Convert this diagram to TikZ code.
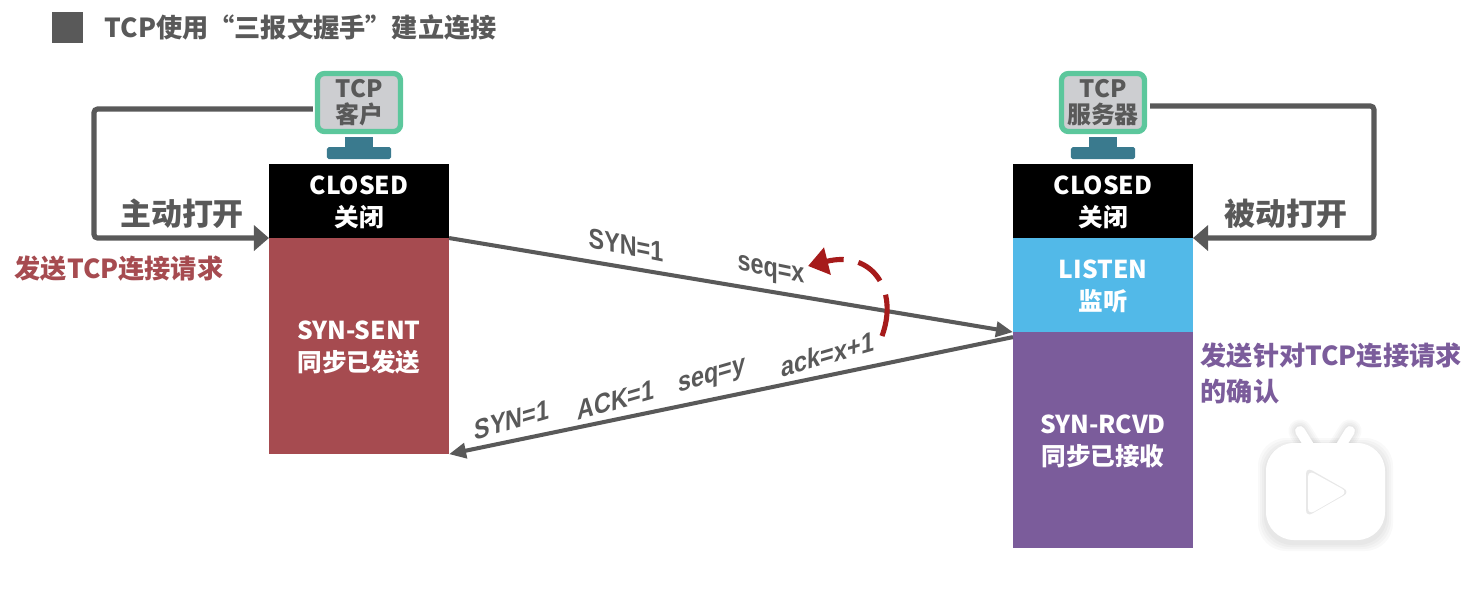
\documentclass[tikz,border=0pt]{standalone}
\usepackage{fontspec}
\setmainfont{Noto Sans CJK SC}
\newfontfamily\labelfont{Liberation Sans}
\usepackage{xcolor}
\usetikzlibrary{arrows.meta,positioning,calc}

\definecolor{linegray}{HTML}{595959}
\definecolor{sentred}{HTML}{A64B50}
\definecolor{listenblue}{HTML}{52B9E8}
\definecolor{rcvdpurple}{HTML}{7B5C9B}
\definecolor{screengreen}{HTML}{5CC79C}
\definecolor{screengray}{HTML}{CDCED1}
\definecolor{standteal}{HTML}{3A7A8E}
\definecolor{markred}{HTML}{A61B1B}

\tikzset{
	statebox/.style={minimum width=1.8cm,inner sep=0pt,outer sep=0pt,align=center,text=white,
		text depth=0pt,font=\fontsize{7}{9.1}\selectfont\bfseries},
	monitor/.style={draw=screengreen,line width=1.5pt,fill=screengray,rounded corners=2pt,
		minimum width=0.83cm,minimum height=0.58cm,inner sep=0pt,align=center,text=linegray,
		font=\fontsize{6.8}{7.4}\selectfont\bfseries},
	stand/.style={fill=standteal,inner sep=0pt,outer sep=0pt},
	openarrow/.style={draw=linegray,line width=1.45pt,rounded corners=1pt,
		-{Triangle[length=0.15cm,width=0.25cm]}},
	msgarrow/.style={draw=linegray,line width=1.15pt,-{Triangle[length=0.17cm,width=0.15cm]}},
	openlabel/.style={text=linegray,inner sep=0pt,font=\fontsize{8.8}{10}\selectfont\bfseries},
	notelabel/.style={inner sep=0pt,anchor=west,align=left,font=\fontsize{7.45}{10}\selectfont\bfseries},
	msgdown/.style={text=linegray,inner sep=0pt,xscale=0.83,yslant=-0.17,transform shape,
		font=\fontsize{8}{9}\labelfont\bfseries},
	msgup/.style={text=linegray,inner sep=0pt,xscale=0.83,yslant=0.24,transform shape,
		font=\fontsize{8}{9}\labelfont\bfseries},
}

\begin{document}
\begin{tikzpicture}[x=0.01cm,y=-0.01cm]
	\useasboundingbox (0,0) rectangle (1466,596);

	% title
	\node[fill=linegray,minimum size=0.31cm,inner sep=0pt] (mark) at (67.5,27.5) {};
	\node[anchor=west,inner sep=0pt,text=linegray,font=\fontsize{7.45}{9}\selectfont\bfseries] (title) at (104,28)
		{TCP使用“三报文握手”建立连接};

	% client column
	\node[statebox,fill=black,minimum height=0.74cm] (closedC) at (359,201) {CLOSED\\关闭};
	\node[statebox,fill=sentred,minimum height=2.16cm,below=0pt of closedC] (sent) {SYN-SENT\\同步已发送};
	\node[monitor] (client) at (359,102.5) {TCP\\客户};
	\node[stand,minimum width=0.28cm,minimum height=0.12cm] (neckC) at (359,143) {};
	\node[stand,minimum width=0.64cm,minimum height=0.12cm,rounded corners=0.5pt] (baseC) at (359,153) {};

	% server column
	\node[statebox,fill=black,minimum height=0.74cm] (closedS) at (1103,201) {CLOSED\\关闭};
	\node[statebox,fill=listenblue,minimum height=0.94cm,below=0pt of closedS] (listen) {LISTEN\\监听};
	\node[statebox,fill=rcvdpurple,minimum height=2.16cm,below=0pt of listen] (rcvd) {SYN-RCVD\\同步已接收};
	\node[monitor] (server) at (1103,102.5) {TCP\\服务器};
	\node[stand,minimum width=0.28cm,minimum height=0.12cm] (neckS) at (1103,143) {};
	\node[stand,minimum width=0.64cm,minimum height=0.12cm,rounded corners=0.5pt] (baseS) at (1103,153) {};

	% open arrows
	\coordinate (turnC) at (94,109);
	\coordinate (turnS) at (1374,106);
	\draw[openarrow] ([xshift=-0.02cm,yshift=-0.065cm]client.west) -- (turnC) |- (sent.north west);
	\draw[openarrow] ([xshift=0.03cm,yshift=-0.035cm]server.east) -- (turnS) |- (listen.north east);
	\node[openlabel] (openC) at (182,214) {主动打开};
	\node[openlabel] (openS) at (1286,214) {被动打开};

	% messages
	\draw[msgarrow] (sent.north east) -- (listen.south west);
	\draw[msgarrow] ([yshift=-0.05cm]rcvd.north west) -- (sent.south east);

	\node[msgdown] (synA) at (626,245) {SYN=1};
	\node[msgdown] (seqA) at (771,272) {seq=x};
	\node[msgup] (synB) at (512,420) {SYN=1};
	\node[msgup] (ackB) at (616,400) {ACK=1};
	\node[msgup] (seqB) at (712,378) {seq=y};
	\node[msgup] (numB) at (828,354) {ack=x+1};

	% dashed mark
	\coordinate (markA) at (882,336);
	\coordinate (markB) at (808,266);
	\draw[draw=markred,line width=1.45pt,dash pattern=on 0.42cm off 0.15cm on 0.29cm off 0.15cm on 0.8cm,
		-{Triangle[length=0.2cm,width=0.27cm]}]
		(markA) .. controls (899,290) and (872,250) .. (markB);

	% notes
	\node[notelabel,text=sentred] (noteC) at (14,269) {发送TCP连接请求};
	\node[notelabel,text=rcvdpurple] (noteS) at (1200,373.5) {发送针对TCP连接请求\\的确认};

	% watermark
	\foreach \s in {8,6,4,2}{
		\fill[black,opacity=0.022,rounded corners=0.28cm] (1266-\s,443-\s+3) -- (1266-\s,540+\s+3) -- (1385+\s,540+\s+3) -- (1385+\s,443-\s+3) -- cycle;
		\draw[black,opacity=0.022,line width=2.6pt+\s*0.5pt,line cap=round] (1300,431) -- (1313,452);
		\draw[black,opacity=0.022,line width=2.6pt+\s*0.5pt,line cap=round] (1350,431) -- (1337,452);
	}
	\draw[white,line width=2.8pt,line cap=round] (1300,431) -- (1313,452);
	\draw[white,line width=2.8pt,line cap=round] (1350,431) -- (1337,452);
	\fill[white,rounded corners=0.28cm] (1266,443) -- (1266,540) -- (1385,540) -- (1385,443) -- cycle;
	\fill[black!9,rounded corners=0.07cm] (1306,467) -- (1350,492) -- (1306,517) -- cycle;
	\fill[white,rounded corners=0.07cm] (1308,470) -- (1348,492) -- (1308,515) -- cycle;
\end{tikzpicture}
\end{document}
